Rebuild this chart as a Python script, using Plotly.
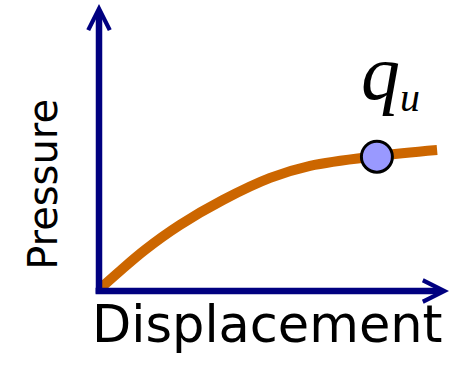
import plotly.graph_objects as go

# Schematic load-settlement curve (normalised units)
displacement = [-0.011, 0.060, 0.131, 0.231, 0.354, 0.489, 0.603, 0.794, 0.966]
pressure = [-0.007, 0.070, 0.143, 0.230, 0.317, 0.394, 0.436, 0.470, 0.491]

# Ultimate bearing point
qu_disp = [0.794]
qu_pres = [0.468]
qu_symbol = "q"
qu_subscript = "u"

x_label = "Displacement"
y_label = "Pressure"

AXIS = "#000080"
CURVE = "#CC6600"

fig = go.Figure()
fig.add_trace(go.Scatter(
    x=displacement, y=pressure, mode="lines",
    line=dict(color=CURVE, width=10, shape="spline", smoothing=1.0),
    hoverinfo="skip", showlegend=False,
))
fig.add_trace(go.Scatter(
    x=qu_disp, y=qu_pres, mode="markers",
    marker=dict(size=31, color="#9999FF", line=dict(color="black", width=3)),
    hoverinfo="skip", showlegend=False,
))

# axis arrows
fig.add_annotation(x=1.0, y=0, ax=-0.014, ay=0, xref="x", yref="y", axref="x", ayref="y",
                   text="", showarrow=True, arrowhead=5, arrowsize=0.65, arrowwidth=6.5,
                   arrowcolor=AXIS, standoff=0)
fig.add_annotation(x=0, y=1.0, ax=0, ay=-0.014, xref="x", yref="y", axref="x", ayref="y",
                   text="", showarrow=True, arrowhead=5, arrowsize=0.65, arrowwidth=6.5,
                   arrowcolor=AXIS, standoff=0)

# q_u label (one text, subscript drawn smaller and lowered)
fig.add_annotation(x=qu_disp[0], y=qu_pres[0], xref="x", yref="y",
                   text="<i>" + qu_symbol + "</i><span style='font-size:57px'><sub><i>"
                        + qu_subscript + "</i></sub></span>",
                   showarrow=False, xanchor="left", yanchor="middle", xshift=-18, yshift=82,
                   font=dict(family="Liberation Serif", size=78, color="black"))

fig.add_annotation(x=0.48, y=0, xref="x", yref="y", text=x_label, showarrow=False,
                   xanchor="center", yanchor="top", yshift=-2,
                   font=dict(family="DejaVu Sans", size=51, color="black"))
fig.add_annotation(x=0, y=0.37, xref="x", yref="y", text=y_label, showarrow=False,
                   textangle=-90, xanchor="right", yanchor="middle", xshift=-31,
                   font=dict(family="DejaVu Sans", size=40, color="black"))

fig.update_layout(
    width=454, height=366,
    margin=dict(l=99, r=5, t=4, b=75),
    paper_bgcolor="white", plot_bgcolor="white",
    xaxis=dict(range=[0, 1], visible=False),
    yaxis=dict(range=[0, 1], visible=False),
)
fig.write_html("out.html", config={"displayModeBar": False},
               post_script="document.body.style.margin='0';")
